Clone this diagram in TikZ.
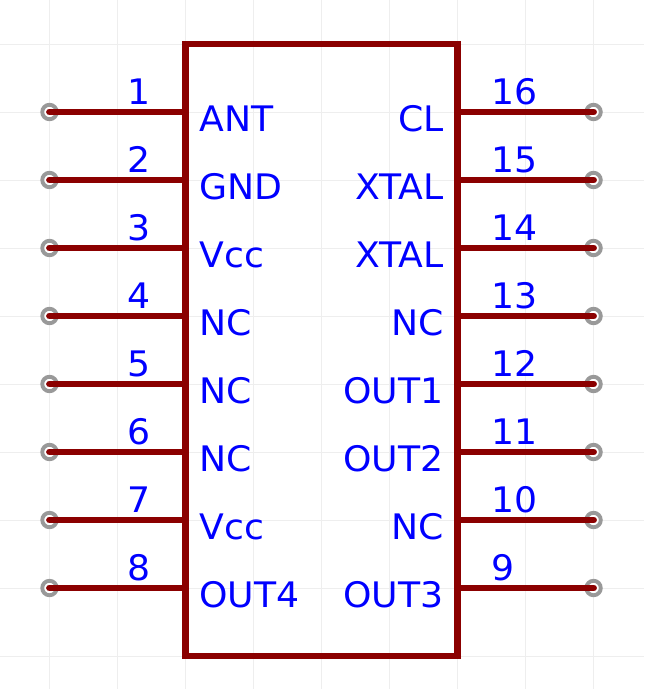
\documentclass[tikz,border=0pt]{standalone}
\usepackage{fontspec}
\setmainfont[FakeStretch=1.03]{DejaVu Sans}
\definecolor{pinred}{HTML}{8B0000}
\definecolor{ringgray}{HTML}{999999}
\definecolor{gridgray}{HTML}{EEEEEE}
\tikzset{
  gridline/.style={draw=gridgray, line width=0.55pt, step=1.36cm},
  chipbody/.style={rectangle, draw=pinred, line width=3.8pt, inner sep=0pt, outer sep=0pt, minimum width=5.44cm, minimum height=12.24cm},
  terminal/.style={circle, draw=ringgray, fill=white, line width=2.2pt, inner sep=0pt, outer sep=0pt, minimum size=0.29cm},
  pinline/.style={draw=pinred, line width=3.9pt, line cap=round},
  pinname/.style={text=blue, font=\fontsize{20pt}{22pt}\selectfont, inner sep=0pt},
  leftname/.style={pinname, anchor=base west},
  rightname/.style={pinname, anchor=base east},
  leftnum/.style={pinname, anchor=base},
  rightnum/.style={pinname, anchor=base west}
}

\begin{document}
\begin{tikzpicture}[x=1.36cm, y=1.36cm]
  \useasboundingbox (-0.728,0.647) rectangle (8.743,-9.485);
  \draw[gridline] (-0.728,-9.485) grid (8.743,0.647);

  \node[terminal] (T1) at (0,-1) {};
  \node[terminal] (T2) at (0,-2) {};
  \node[terminal] (T3) at (0,-3) {};
  \node[terminal] (T4) at (0,-4) {};
  \node[terminal] (T5) at (0,-5) {};
  \node[terminal] (T6) at (0,-6) {};
  \node[terminal] (T7) at (0,-7) {};
  \node[terminal] (T8) at (0,-8) {};
  \node[terminal] (T9) at (8,-8) {};
  \node[terminal] (T10) at (8,-7) {};
  \node[terminal] (T11) at (8,-6) {};
  \node[terminal] (T12) at (8,-5) {};
  \node[terminal] (T13) at (8,-4) {};
  \node[terminal] (T14) at (8,-3) {};
  \node[terminal] (T15) at (8,-2) {};
  \node[terminal] (T16) at (8,-1) {};

  \node[chipbody] (U1) at (4,-4.5) {};

  \draw[pinline] (T1.center) -- (T1.center -| U1.west);
  \draw[pinline] (T2.center) -- (T2.center -| U1.west);
  \draw[pinline] (T3.center) -- (T3.center -| U1.west);
  \draw[pinline] (T4.center) -- (T4.center -| U1.west);
  \draw[pinline] (T5.center) -- (T5.center -| U1.west);
  \draw[pinline] (T6.center) -- (T6.center -| U1.west);
  \draw[pinline] (T7.center) -- (T7.center -| U1.west);
  \draw[pinline] (T8.center) -- (T8.center -| U1.west);
  \draw[pinline] (T9.center) -- (T9.center -| U1.east);
  \draw[pinline] (T10.center) -- (T10.center -| U1.east);
  \draw[pinline] (T11.center) -- (T11.center -| U1.east);
  \draw[pinline] (T12.center) -- (T12.center -| U1.east);
  \draw[pinline] (T13.center) -- (T13.center -| U1.east);
  \draw[pinline] (T14.center) -- (T14.center -| U1.east);
  \draw[pinline] (T15.center) -- (T15.center -| U1.east);
  \draw[pinline] (T16.center) -- (T16.center -| U1.east);

  \node[leftnum] (N1) at (1.323,-0.89) {1};
  \node[leftnum] (N2) at (1.323,-1.89) {2};
  \node[leftnum] (N3) at (1.323,-2.89) {3};
  \node[leftnum] (N4) at (1.323,-3.89) {4};
  \node[leftnum] (N5) at (1.323,-4.89) {5};
  \node[leftnum] (N6) at (1.323,-5.89) {6};
  \node[leftnum] (N7) at (1.323,-6.89) {7};
  \node[leftnum] (N8) at (1.323,-7.89) {8};
  \node[rightnum] (N9) at (6.5,-7.89) {9};
  \node[rightnum] (N10) at (6.5,-6.89) {10};
  \node[rightnum] (N11) at (6.5,-5.89) {11};
  \node[rightnum] (N12) at (6.5,-4.89) {12};
  \node[rightnum] (N13) at (6.5,-3.89) {13};
  \node[rightnum] (N14) at (6.5,-2.89) {14};
  \node[rightnum] (N15) at (6.5,-1.89) {15};
  \node[rightnum] (N16) at (6.5,-0.89) {16};

  \node[leftname] (L1) at (2.2,-1.29) {ANT};
  \node[leftname] (L2) at (2.2,-2.29) {GND};
  \node[leftname] (L3) at (2.2,-3.29) {Vcc};
  \node[leftname] (L4) at (2.2,-4.29) {NC};
  \node[leftname] (L5) at (2.2,-5.29) {NC};
  \node[leftname] (L6) at (2.2,-6.29) {NC};
  \node[leftname] (L7) at (2.2,-7.29) {Vcc};
  \node[leftname] (L8) at (2.2,-8.29) {OUT4};
  \node[rightname] (R9) at (5.8,-8.29) {OUT3};
  \node[rightname] (R10) at (5.8,-7.29) {NC};
  \node[rightname] (R11) at (5.8,-6.29) {OUT2};
  \node[rightname] (R12) at (5.8,-5.29) {OUT1};
  \node[rightname] (R13) at (5.8,-4.29) {NC};
  \node[rightname] (R14) at (5.8,-3.29) {XTAL};
  \node[rightname] (R15) at (5.8,-2.29) {XTAL};
  \node[rightname] (R16) at (5.8,-1.29) {CL};
\end{tikzpicture}
\end{document}
